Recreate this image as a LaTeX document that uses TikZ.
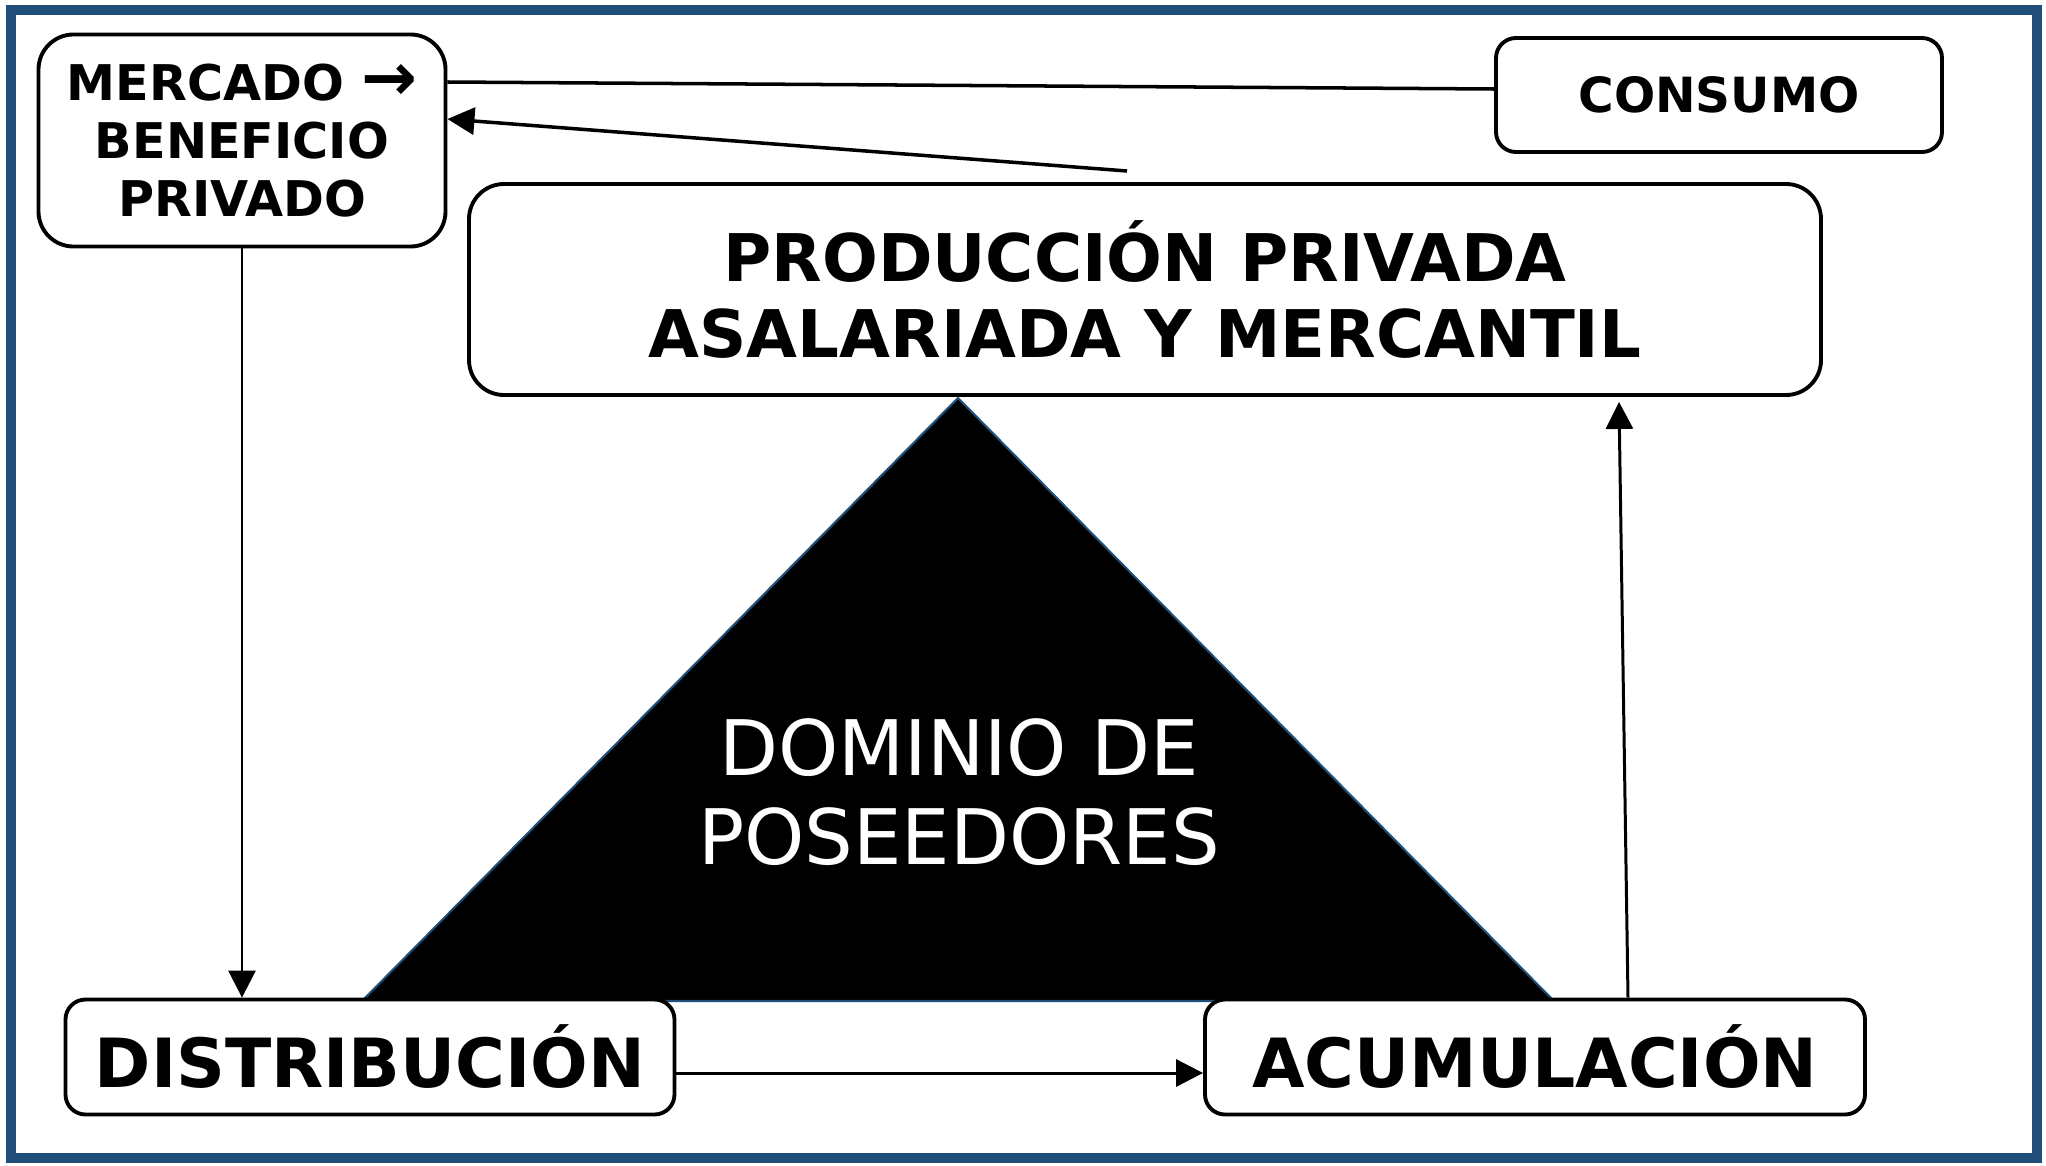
\documentclass[tikz,border=0pt]{standalone}
\usepackage{fontspec}
\setmainfont{DejaVu Sans}
\usetikzlibrary{arrows.meta}

\begin{document}
\begin{tikzpicture}[
  etapa/.style={
    rectangle,
    draw=black,
    fill=white,
    line width=1.1pt,
    rounded corners=0.2cm,
    align=center,
    inner sep=0pt,
  },
  flujo/.style={
    line width=0.85pt,
    -{Triangle[length=0.27cm,width=0.27cm]},
  },
]
  \useasboundingbox (0, 0) rectangle (20.46, -11.66);
  \draw[
    line width=0.1cm,
    color={rgb,255:red,31;green,78;blue,121},
  ] (0.11, -0.10) rectangle (20.365, -11.58);

  % Triangle behind the boxes
  \draw[
    fill=black,
    draw={rgb,255:red,31;green,78;blue,121},
    line width=0.6pt,
  ] (9.58, -3.98) -- (15.54, -10.01) -- (3.62, -10.01) -- cycle;
  \node[
    white,
    align=center,
    font=\fontsize{21.8}{25.3}\selectfont,
  ] (dominio) at (9.59, -7.92) {DOMINIO DE\\POSEEDORES};

  \node[
    etapa,
    rounded corners=0.35cm,
    minimum width=4.07cm,
    minimum height=2.12cm,
    font=\bfseries\fontsize{14}{16.5}\selectfont,
  ] (mercado) at (2.42, -1.405) {MERCADO {\fontsize{19}{16.5}\selectfont →}\\BENEFICIO\\PRIVADO};

  \node[
    etapa,
    minimum width=4.46cm,
    minimum height=1.14cm,
    font=\bfseries\fontsize{13.8}{16}\selectfont,
  ] (consumo) at (17.19, -0.95) {CONSUMO};

  \node[
    etapa,
    rounded corners=0.35cm,
    minimum width=13.52cm,
    minimum height=2.11cm,
    font=\bfseries\fontsize{18.7}{21.9}\selectfont,
  ] (produccion) at (11.45, -2.895) {PRODUCCIÓN PRIVADA\\ASALARIADA Y MERCANTIL};

  \node[
    etapa,
    minimum width=6.09cm,
    minimum height=1.15cm,
    font=\bfseries\fontsize{19.3}{22}\selectfont,
  ] (distribucion) at (3.70, -10.57) {DISTRIBUCIÓN};

  \node[
    etapa,
    minimum width=6.60cm,
    minimum height=1.15cm,
    font=\bfseries\fontsize{19.3}{22}\selectfont,
  ] (acumulacion) at (15.35, -10.57) {ACUMULACIÓN};

  \coordinate (retorno) at (11.27, -1.71);

  \draw[line width=1pt] ([yshift=0.585cm]mercado.east) -- ([yshift=0.06cm]consumo.west);
  \draw[flujo, line width=1pt] (retorno) -- ([yshift=0.215cm]mercado.east);
  \draw[flujo] (mercado.south) -- (mercado.south |- distribucion.north);
  \draw[flujo] ([yshift=-0.16cm]distribucion.east) -- ([yshift=-0.16cm]acumulacion.west);
  \draw[flujo] ([xshift=0.93cm]acumulacion.north) -- ([xshift=4.74cm,yshift=-0.05cm]produccion.south);
\end{tikzpicture}
\end{document}
